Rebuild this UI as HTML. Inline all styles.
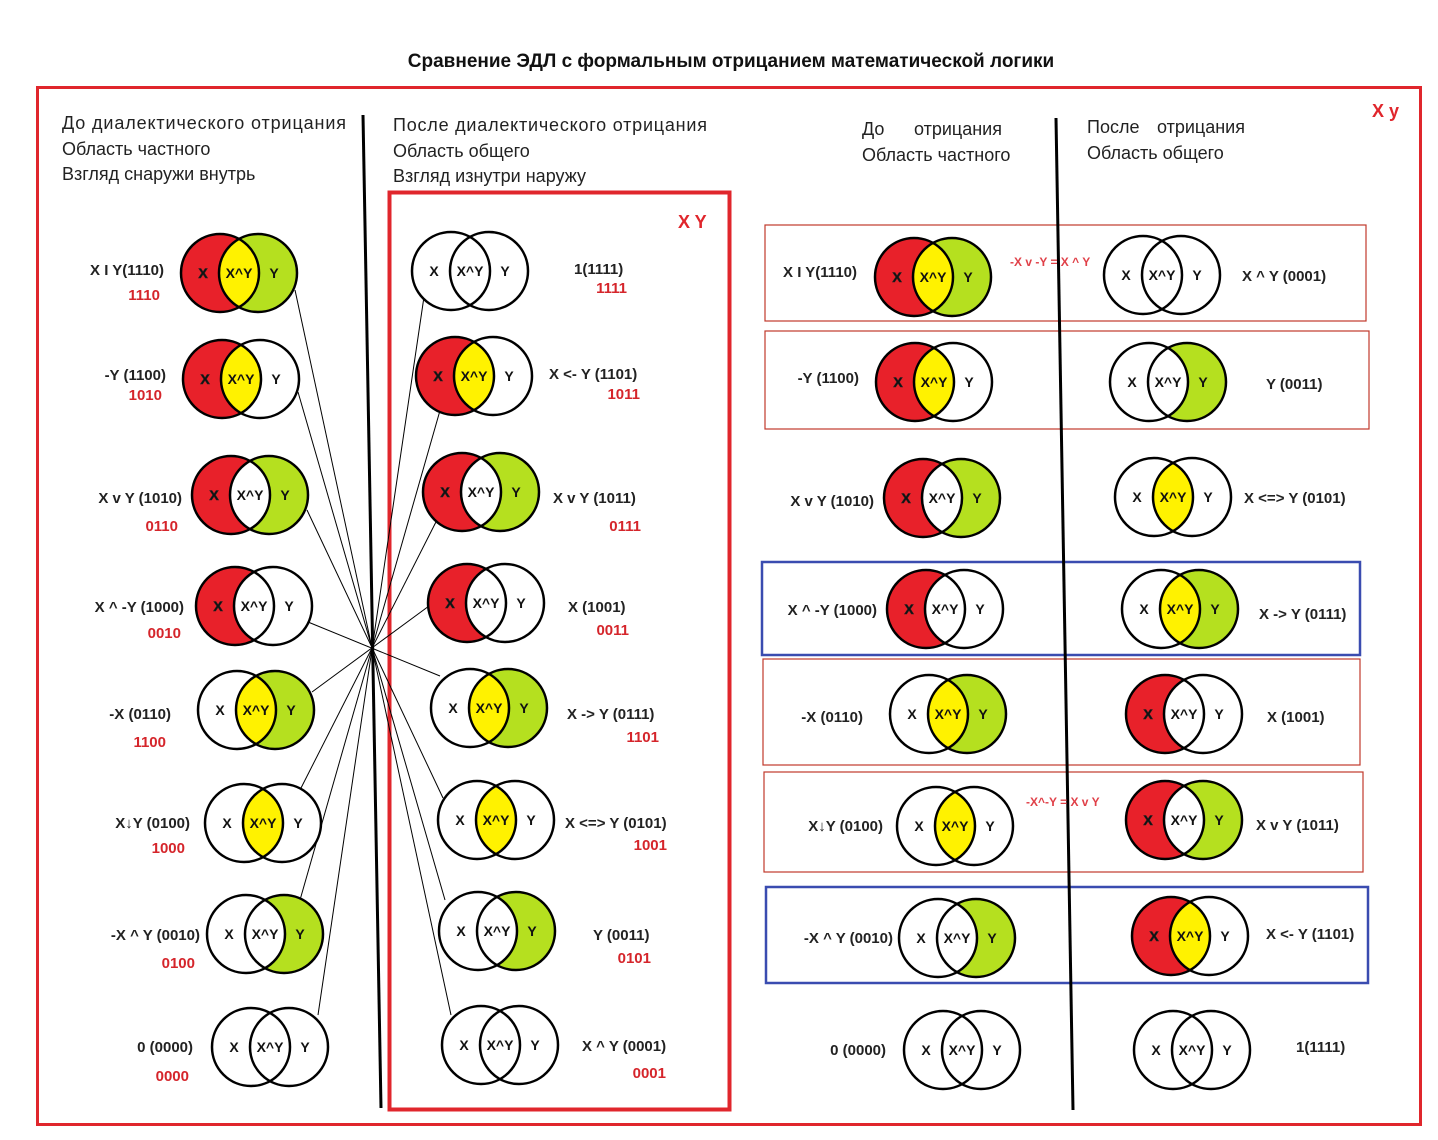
<!DOCTYPE html>
<html><head><meta charset="utf-8"><style>
html,body{margin:0;padding:0;background:#fff}
svg{display:block}
text{font-family:"Liberation Sans","DejaVu Sans",sans-serif}
.o{fill:none;stroke:#000;stroke-width:2.5}
.v text{font-size:14px;font-weight:bold;text-anchor:middle;fill:#111}
.lb{font-size:15px;font-weight:bold;fill:#222}
.rd{font-size:15px;font-weight:bold;fill:#d5252b}
.hd{font-size:18px;fill:#222}
</style></head><body>
<svg width="1438" height="1140" viewBox="0 0 1438 1140" xmlns="http://www.w3.org/2000/svg">
<defs><clipPath id="c" clipPathUnits="userSpaceOnUse"><circle cx="-19" cy="0" r="39"/></clipPath></defs>
<text x="731" y="67" text-anchor="middle" style="font-size:19px;font-weight:bold" fill="#111">Сравнение ЭДЛ с формальным отрицанием математической логики</text>
<rect x="37.5" y="87.5" width="1383" height="1037" fill="none" stroke="#e0262c" stroke-width="3"/>
<rect x="389.5" y="192.5" width="340" height="917" fill="none" stroke="#e0262c" stroke-width="4"/>
<g fill="none" stroke="#c0392b" stroke-width="1.2">
<rect x="765" y="225" width="601" height="96"/><rect x="765" y="331" width="604" height="98"/>
<rect x="763" y="659" width="597" height="106"/><rect x="764" y="772" width="599" height="100"/></g>
<g fill="none" stroke="#3a4cb0" stroke-width="2.5">
<rect x="762" y="562" width="598" height="93"/><rect x="766" y="887" width="602" height="96"/></g>
<line x1="363" y1="115" x2="381" y2="1108" stroke="#000" stroke-width="3"/>
<line x1="1056" y1="118" x2="1073" y2="1110" stroke="#000" stroke-width="3"/>
<text x="1372" y="117" style="font-size:18px;font-weight:bold" fill="#e0262c">X y</text>
<text x="678" y="228" style="font-size:18px;font-weight:bold" fill="#e0262c">X Y</text>
<g class="hd">
<text x="62" y="129" textLength="284">До диалектического отрицания</text>
<text x="62" y="155">Область частного</text>
<text x="62" y="180">Взгляд снаружи внутрь</text>
<text x="393" y="131" textLength="314">После диалектического отрицания</text>
<text x="393" y="157">Область общего</text>
<text x="393" y="182">Взгляд изнутри наружу</text>
<text x="862" y="135">До</text><text x="914" y="135">отрицания</text>
<text x="862" y="161">Область частного</text>
<text x="1087" y="133">После</text><text x="1157" y="133">отрицания</text>
<text x="1087" y="159">Область общего</text>
</g>
<g stroke="#000" stroke-width="1">
<line x1="295" y1="290" x2="451" y2="1015"/>
<line x1="298" y1="392" x2="445" y2="900"/>
<line x1="307" y1="510" x2="443" y2="798"/>
<line x1="308" y1="622" x2="440" y2="676"/>
<line x1="312" y1="692" x2="429" y2="606"/>
<line x1="300" y1="790" x2="440" y2="514"/>
<line x1="300" y1="900" x2="443" y2="400"/>
<line x1="318" y1="1015" x2="425" y2="290"/>
</g>
<g class="v">
<g transform="translate(239,273)"><circle cx="-19" r="39" fill="#e8212a"/><circle cx="19" r="39" fill="#b5e01f"/><circle cx="19" r="39" fill="#fff200" clip-path="url(#c)"/><circle cx="-19" r="39" class="o"/><circle cx="19" r="39" class="o"/><text x="-36" y="5" fill="#fff" stroke="#222" stroke-width=".6">X</text><text x="0" y="5">X^Y</text><text x="35" y="5">Y</text></g>
<g transform="translate(241,379)"><circle cx="-19" r="39" fill="#e8212a"/><circle cx="19" r="39" fill="#fff"/><circle cx="19" r="39" fill="#fff200" clip-path="url(#c)"/><circle cx="-19" r="39" class="o"/><circle cx="19" r="39" class="o"/><text x="-36" y="5" fill="#fff" stroke="#222" stroke-width=".6">X</text><text x="0" y="5">X^Y</text><text x="35" y="5">Y</text></g>
<g transform="translate(250,495)"><circle cx="-19" r="39" fill="#e8212a"/><circle cx="19" r="39" fill="#b5e01f"/><circle cx="19" r="39" fill="#fff" clip-path="url(#c)"/><circle cx="-19" r="39" class="o"/><circle cx="19" r="39" class="o"/><text x="-36" y="5" fill="#fff" stroke="#222" stroke-width=".6">X</text><text x="0" y="5">X^Y</text><text x="35" y="5">Y</text></g>
<g transform="translate(254,606)"><circle cx="-19" r="39" fill="#e8212a"/><circle cx="19" r="39" fill="#fff"/><circle cx="-19" r="39" class="o"/><circle cx="19" r="39" class="o"/><text x="-36" y="5" fill="#fff" stroke="#222" stroke-width=".6">X</text><text x="0" y="5">X^Y</text><text x="35" y="5">Y</text></g>
<g transform="translate(256,710)"><circle cx="-19" r="39" fill="#fff"/><circle cx="19" r="39" fill="#b5e01f"/><circle cx="19" r="39" fill="#fff200" clip-path="url(#c)"/><circle cx="-19" r="39" class="o"/><circle cx="19" r="39" class="o"/><text x="-36" y="5">X</text><text x="0" y="5">X^Y</text><text x="35" y="5">Y</text></g>
<g transform="translate(263,823)"><circle cx="-19" r="39" fill="#fff"/><circle cx="19" r="39" fill="#fff"/><circle cx="19" r="39" fill="#fff200" clip-path="url(#c)"/><circle cx="-19" r="39" class="o"/><circle cx="19" r="39" class="o"/><text x="-36" y="5">X</text><text x="0" y="5">X^Y</text><text x="35" y="5">Y</text></g>
<g transform="translate(265,934)"><circle cx="-19" r="39" fill="#fff"/><circle cx="19" r="39" fill="#b5e01f"/><circle cx="19" r="39" fill="#fff" clip-path="url(#c)"/><circle cx="-19" r="39" class="o"/><circle cx="19" r="39" class="o"/><text x="-36" y="5">X</text><text x="0" y="5">X^Y</text><text x="35" y="5">Y</text></g>
<g transform="translate(270,1047)"><circle cx="-19" r="39" fill="#fff"/><circle cx="19" r="39" fill="#fff"/><circle cx="-19" r="39" class="o"/><circle cx="19" r="39" class="o"/><text x="-36" y="5">X</text><text x="0" y="5">X^Y</text><text x="35" y="5">Y</text></g>

<g transform="translate(470,271)"><circle cx="-19" r="39" fill="#fff"/><circle cx="19" r="39" fill="#fff"/><circle cx="-19" r="39" class="o"/><circle cx="19" r="39" class="o"/><text x="-36" y="5">X</text><text x="0" y="5">X^Y</text><text x="35" y="5">Y</text></g>
<g transform="translate(474,376)"><circle cx="-19" r="39" fill="#e8212a"/><circle cx="19" r="39" fill="#fff"/><circle cx="19" r="39" fill="#fff200" clip-path="url(#c)"/><circle cx="-19" r="39" class="o"/><circle cx="19" r="39" class="o"/><text x="-36" y="5" fill="#fff" stroke="#222" stroke-width=".6">X</text><text x="0" y="5">X^Y</text><text x="35" y="5">Y</text></g>
<g transform="translate(481,492)"><circle cx="-19" r="39" fill="#e8212a"/><circle cx="19" r="39" fill="#b5e01f"/><circle cx="19" r="39" fill="#fff" clip-path="url(#c)"/><circle cx="-19" r="39" class="o"/><circle cx="19" r="39" class="o"/><text x="-36" y="5" fill="#fff" stroke="#222" stroke-width=".6">X</text><text x="0" y="5">X^Y</text><text x="35" y="5">Y</text></g>
<g transform="translate(486,603)"><circle cx="-19" r="39" fill="#e8212a"/><circle cx="19" r="39" fill="#fff"/><circle cx="-19" r="39" class="o"/><circle cx="19" r="39" class="o"/><text x="-36" y="5" fill="#fff" stroke="#222" stroke-width=".6">X</text><text x="0" y="5">X^Y</text><text x="35" y="5">Y</text></g>
<g transform="translate(489,708)"><circle cx="-19" r="39" fill="#fff"/><circle cx="19" r="39" fill="#b5e01f"/><circle cx="19" r="39" fill="#fff200" clip-path="url(#c)"/><circle cx="-19" r="39" class="o"/><circle cx="19" r="39" class="o"/><text x="-36" y="5">X</text><text x="0" y="5">X^Y</text><text x="35" y="5">Y</text></g>
<g transform="translate(496,820)"><circle cx="-19" r="39" fill="#fff"/><circle cx="19" r="39" fill="#fff"/><circle cx="19" r="39" fill="#fff200" clip-path="url(#c)"/><circle cx="-19" r="39" class="o"/><circle cx="19" r="39" class="o"/><text x="-36" y="5">X</text><text x="0" y="5">X^Y</text><text x="35" y="5">Y</text></g>
<g transform="translate(497,931)"><circle cx="-19" r="39" fill="#fff"/><circle cx="19" r="39" fill="#b5e01f"/><circle cx="19" r="39" fill="#fff" clip-path="url(#c)"/><circle cx="-19" r="39" class="o"/><circle cx="19" r="39" class="o"/><text x="-36" y="5">X</text><text x="0" y="5">X^Y</text><text x="35" y="5">Y</text></g>
<g transform="translate(500,1045)"><circle cx="-19" r="39" fill="#fff"/><circle cx="19" r="39" fill="#fff"/><circle cx="-19" r="39" class="o"/><circle cx="19" r="39" class="o"/><text x="-36" y="5">X</text><text x="0" y="5">X^Y</text><text x="35" y="5">Y</text></g>

<g transform="translate(933,277)"><circle cx="-19" r="39" fill="#e8212a"/><circle cx="19" r="39" fill="#b5e01f"/><circle cx="19" r="39" fill="#fff200" clip-path="url(#c)"/><circle cx="-19" r="39" class="o"/><circle cx="19" r="39" class="o"/><text x="-36" y="5" fill="#fff" stroke="#222" stroke-width=".6">X</text><text x="0" y="5">X^Y</text><text x="35" y="5">Y</text></g>
<g transform="translate(934,382)"><circle cx="-19" r="39" fill="#e8212a"/><circle cx="19" r="39" fill="#fff"/><circle cx="19" r="39" fill="#fff200" clip-path="url(#c)"/><circle cx="-19" r="39" class="o"/><circle cx="19" r="39" class="o"/><text x="-36" y="5" fill="#fff" stroke="#222" stroke-width=".6">X</text><text x="0" y="5">X^Y</text><text x="35" y="5">Y</text></g>
<g transform="translate(942,498)"><circle cx="-19" r="39" fill="#e8212a"/><circle cx="19" r="39" fill="#b5e01f"/><circle cx="19" r="39" fill="#fff" clip-path="url(#c)"/><circle cx="-19" r="39" class="o"/><circle cx="19" r="39" class="o"/><text x="-36" y="5" fill="#fff" stroke="#222" stroke-width=".6">X</text><text x="0" y="5">X^Y</text><text x="35" y="5">Y</text></g>
<g transform="translate(945,609)"><circle cx="-19" r="39" fill="#e8212a"/><circle cx="19" r="39" fill="#fff"/><circle cx="-19" r="39" class="o"/><circle cx="19" r="39" class="o"/><text x="-36" y="5" fill="#fff" stroke="#222" stroke-width=".6">X</text><text x="0" y="5">X^Y</text><text x="35" y="5">Y</text></g>
<g transform="translate(948,714)"><circle cx="-19" r="39" fill="#fff"/><circle cx="19" r="39" fill="#b5e01f"/><circle cx="19" r="39" fill="#fff200" clip-path="url(#c)"/><circle cx="-19" r="39" class="o"/><circle cx="19" r="39" class="o"/><text x="-36" y="5">X</text><text x="0" y="5">X^Y</text><text x="35" y="5">Y</text></g>
<g transform="translate(955,826)"><circle cx="-19" r="39" fill="#fff"/><circle cx="19" r="39" fill="#fff"/><circle cx="19" r="39" fill="#fff200" clip-path="url(#c)"/><circle cx="-19" r="39" class="o"/><circle cx="19" r="39" class="o"/><text x="-36" y="5">X</text><text x="0" y="5">X^Y</text><text x="35" y="5">Y</text></g>
<g transform="translate(957,938)"><circle cx="-19" r="39" fill="#fff"/><circle cx="19" r="39" fill="#b5e01f"/><circle cx="19" r="39" fill="#fff" clip-path="url(#c)"/><circle cx="-19" r="39" class="o"/><circle cx="19" r="39" class="o"/><text x="-36" y="5">X</text><text x="0" y="5">X^Y</text><text x="35" y="5">Y</text></g>
<g transform="translate(962,1050)"><circle cx="-19" r="39" fill="#fff"/><circle cx="19" r="39" fill="#fff"/><circle cx="-19" r="39" class="o"/><circle cx="19" r="39" class="o"/><text x="-36" y="5">X</text><text x="0" y="5">X^Y</text><text x="35" y="5">Y</text></g>

<g transform="translate(1162,275)"><circle cx="-19" r="39" fill="#fff"/><circle cx="19" r="39" fill="#fff"/><circle cx="-19" r="39" class="o"/><circle cx="19" r="39" class="o"/><text x="-36" y="5">X</text><text x="0" y="5">X^Y</text><text x="35" y="5">Y</text></g>
<g transform="translate(1168,382)"><circle cx="-19" r="39" fill="#fff"/><circle cx="19" r="39" fill="#b5e01f"/><circle cx="19" r="39" fill="#fff" clip-path="url(#c)"/><circle cx="-19" r="39" class="o"/><circle cx="19" r="39" class="o"/><text x="-36" y="5">X</text><text x="0" y="5">X^Y</text><text x="35" y="5">Y</text></g>
<g transform="translate(1173,497)"><circle cx="-19" r="39" fill="#fff"/><circle cx="19" r="39" fill="#fff"/><circle cx="19" r="39" fill="#fff200" clip-path="url(#c)"/><circle cx="-19" r="39" class="o"/><circle cx="19" r="39" class="o"/><text x="-36" y="5">X</text><text x="0" y="5">X^Y</text><text x="35" y="5">Y</text></g>
<g transform="translate(1180,609)"><circle cx="-19" r="39" fill="#fff"/><circle cx="19" r="39" fill="#b5e01f"/><circle cx="19" r="39" fill="#fff200" clip-path="url(#c)"/><circle cx="-19" r="39" class="o"/><circle cx="19" r="39" class="o"/><text x="-36" y="5">X</text><text x="0" y="5">X^Y</text><text x="35" y="5">Y</text></g>
<g transform="translate(1184,714)"><circle cx="-19" r="39" fill="#e8212a"/><circle cx="19" r="39" fill="#fff"/><circle cx="-19" r="39" class="o"/><circle cx="19" r="39" class="o"/><text x="-36" y="5" fill="#fff" stroke="#222" stroke-width=".6">X</text><text x="0" y="5">X^Y</text><text x="35" y="5">Y</text></g>
<g transform="translate(1184,820)"><circle cx="-19" r="39" fill="#e8212a"/><circle cx="19" r="39" fill="#b5e01f"/><circle cx="19" r="39" fill="#fff" clip-path="url(#c)"/><circle cx="-19" r="39" class="o"/><circle cx="19" r="39" class="o"/><text x="-36" y="5" fill="#fff" stroke="#222" stroke-width=".6">X</text><text x="0" y="5">X^Y</text><text x="35" y="5">Y</text></g>
<g transform="translate(1190,936)"><circle cx="-19" r="39" fill="#e8212a"/><circle cx="19" r="39" fill="#fff"/><circle cx="19" r="39" fill="#fff200" clip-path="url(#c)"/><circle cx="-19" r="39" class="o"/><circle cx="19" r="39" class="o"/><text x="-36" y="5" fill="#fff" stroke="#222" stroke-width=".6">X</text><text x="0" y="5">X^Y</text><text x="35" y="5">Y</text></g>
<g transform="translate(1192,1050)"><circle cx="-19" r="39" fill="#fff"/><circle cx="19" r="39" fill="#fff"/><circle cx="-19" r="39" class="o"/><circle cx="19" r="39" class="o"/><text x="-36" y="5">X</text><text x="0" y="5">X^Y</text><text x="35" y="5">Y</text></g>
</g>

<g class="lb" text-anchor="end">
<text x="164" y="275">X I Y(1110)</text>
<text x="166" y="380">-Y (1100)</text>
<text x="182" y="503">X v Y (1010)</text>
<text x="184" y="612">X ^ -Y (1000)</text>
<text x="171" y="719">-X  (0110)</text>
<text x="190" y="828">X↓Y (0100)</text>
<text x="200" y="940">-X ^ Y (0010)</text>
<text x="193" y="1052">0 (0000)</text>
<text x="857" y="277">X I Y(1110)</text>
<text x="859" y="383">-Y (1100)</text>
<text x="874" y="506">X v Y (1010)</text>
<text x="877" y="615">X ^ -Y (1000)</text>
<text x="863" y="722">-X  (0110)</text>
<text x="883" y="831">X↓Y (0100)</text>
<text x="893" y="943">-X ^ Y (0010)</text>
<text x="886" y="1055">0 (0000)</text>
</g>
<g class="rd" text-anchor="end">
<text x="160" y="300">1110</text><text x="162" y="400">1010</text><text x="178" y="531">0110</text>
<text x="181" y="638">0010</text><text x="166" y="747">1100</text><text x="185" y="853">1000</text>
<text x="195" y="968">0100</text><text x="189" y="1081">0000</text>
<text x="627" y="293">1111</text><text x="640" y="399">1011</text><text x="641" y="531">0111</text>
<text x="629" y="635">0011</text><text x="659" y="742">1101</text><text x="667" y="850">1001</text>
<text x="651" y="963">0101</text><text x="666" y="1078">0001</text>
</g>
<g class="lb">
<text x="574" y="274">1(1111)</text>
<text x="549" y="379">X &lt;- Y (1101)</text>
<text x="553" y="503">X v Y (1011)</text>
<text x="568" y="612">X (1001)</text>
<text x="567" y="719">X -&gt; Y (0111)</text>
<text x="565" y="828">X &lt;=&gt; Y (0101)</text>
<text x="593" y="940">Y (0011)</text>
<text x="582" y="1051">X ^ Y (0001)</text>
<text x="1242" y="281">X ^ Y (0001)</text>
<text x="1266" y="389">Y (0011)</text>
<text x="1244" y="503">X &lt;=&gt; Y (0101)</text>
<text x="1259" y="619">X -&gt; Y (0111)</text>
<text x="1267" y="722">X (1001)</text>
<text x="1256" y="830">X v Y (1011)</text>
<text x="1266" y="939">X &lt;- Y (1101)</text>
<text x="1296" y="1052">1(1111)</text>
</g>
<text x="1010" y="266" style="font-size:12px;font-weight:bold" fill="#e04048">-X v -Y = X ^ Y</text>
<text x="1026" y="806" style="font-size:12px;font-weight:bold" fill="#e04048">-X^-Y = X v Y</text>
</svg>
</body></html>
